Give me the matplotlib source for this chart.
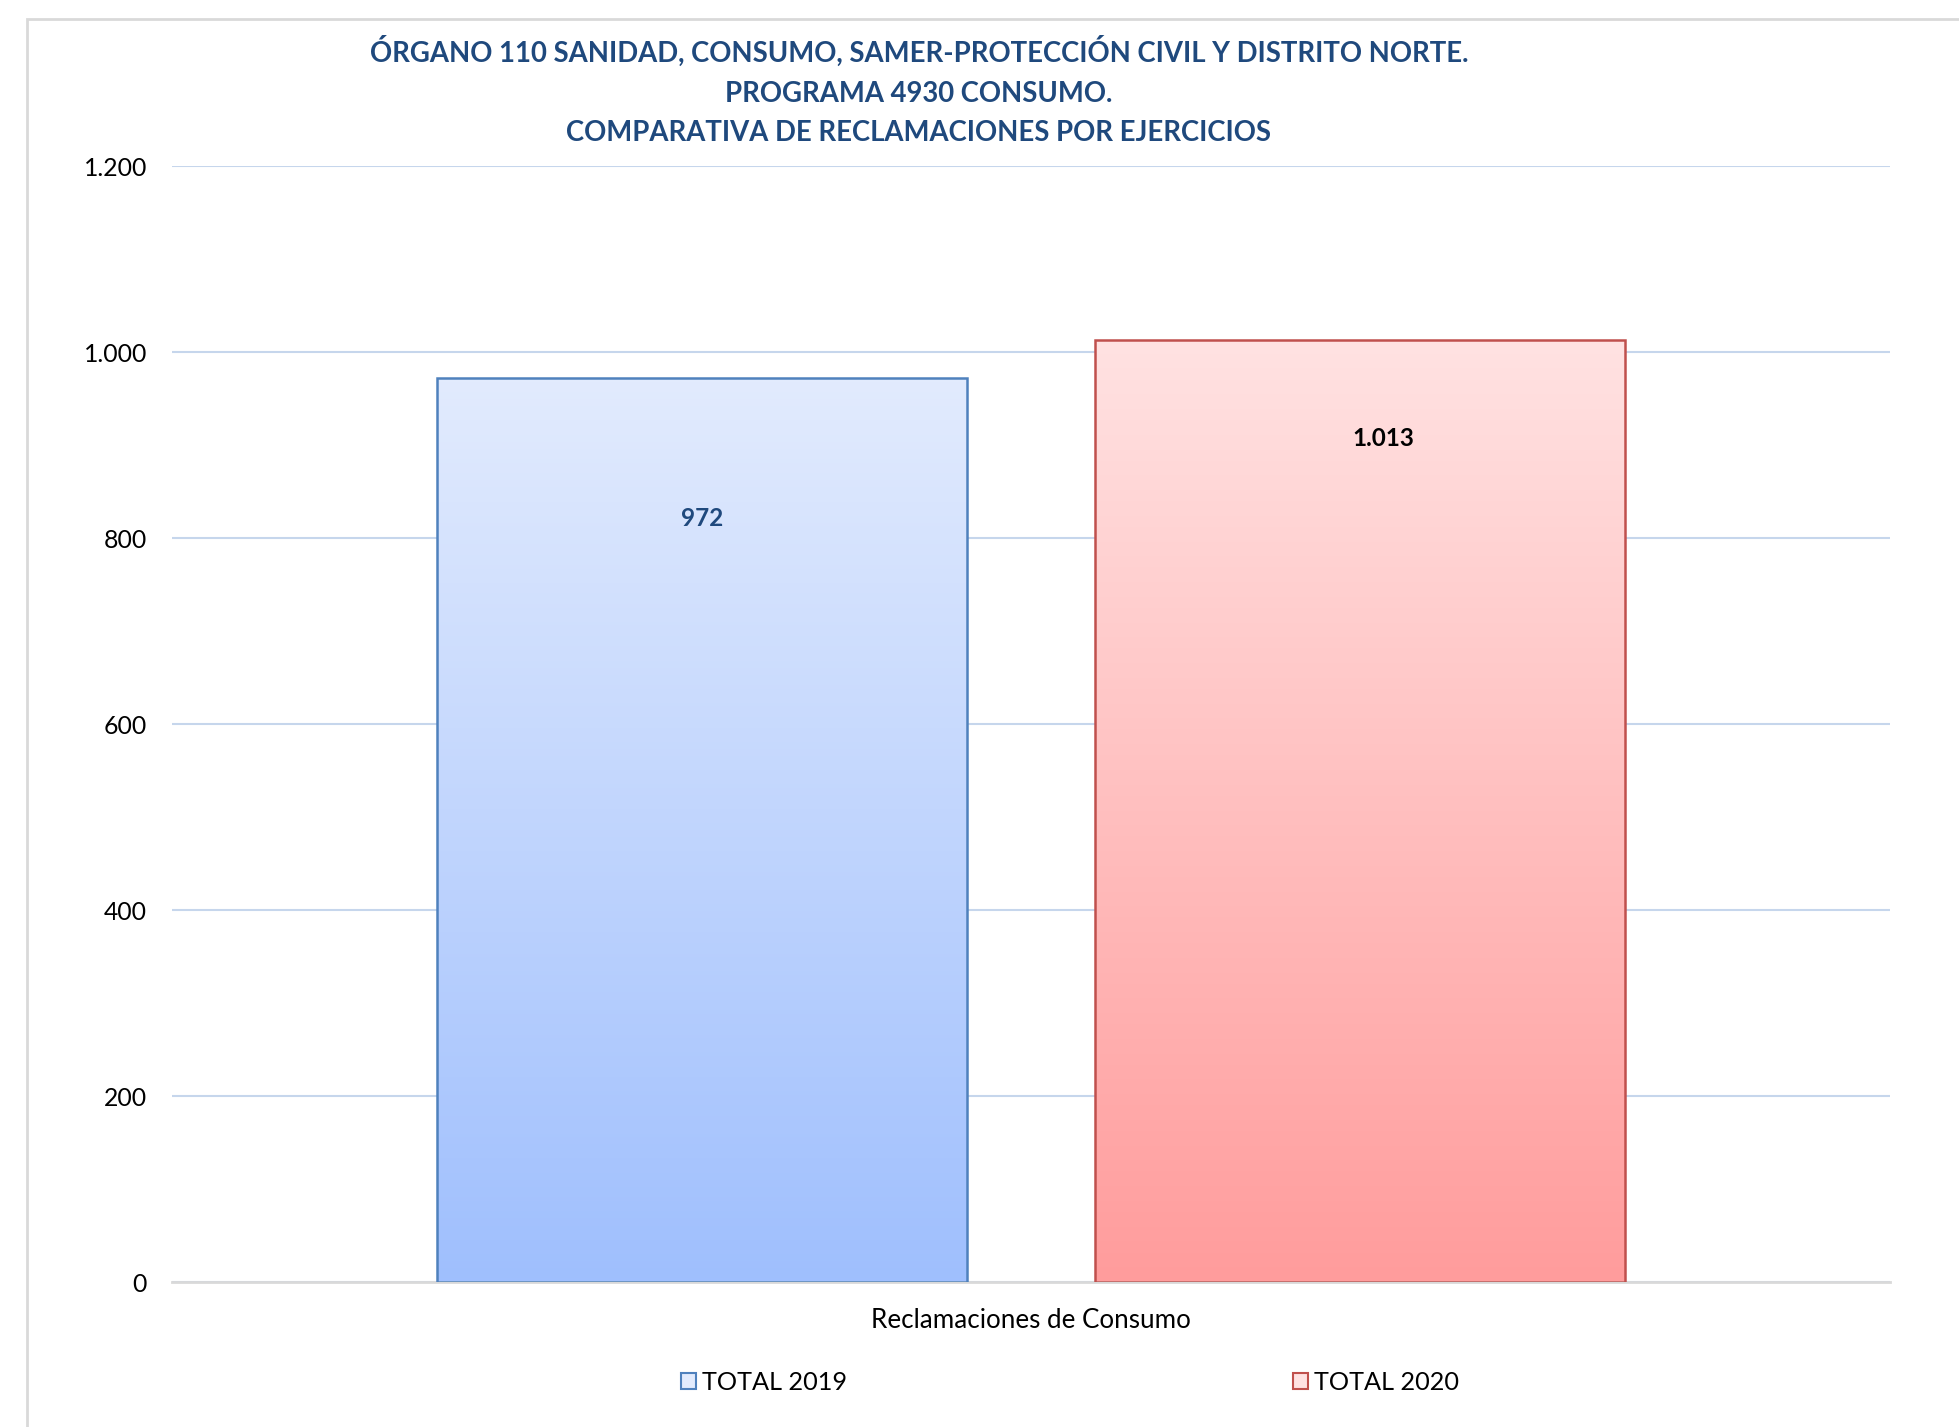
import matplotlib
matplotlib.use("Agg")
import matplotlib.pyplot as plt
import numpy as np
from matplotlib.patches import Rectangle
from matplotlib.ticker import FuncFormatter
from matplotlib.colors import LinearSegmentedColormap

plt.rcParams['font.family'] = ['Lato', 'DejaVu Sans']

categoria = "Reclamaciones de Consumo"
series = ["TOTAL 2019", "TOTAL 2020"]
valores = [972, 1013]
etiquetas = ["972", "1.013"]

titulo = ("ÓRGANO 110 SANIDAD, CONSUMO, SAMER-PROTECCIÓN CIVIL Y DISTRITO NORTE.\n"
          "PROGRAMA 4930 CONSUMO.\n"
          "COMPARATIVA DE RECLAMACIONES POR EJERCICIOS")

bordes = ["#4F81BD", "#C0504D"]
degradados = [("#9FBFFE", "#E2EBFD"), ("#FF9C9C", "#FFE2E2")]
color_etiqueta = ["#1F497D", "#000000"]
desplaz = [(0, -101), (17, -71)]

fig = plt.figure(figsize=(19.59, 14.27), dpi=100)
fig.patches.append(Rectangle((27 / 1959, -0.5), 2, 1.5 - 19 / 1427,
                             transform=fig.transFigure, fill=False,
                             edgecolor="#D9D9D9", linewidth=2))

ax = fig.add_axes([172 / 1959, 1 - 1282 / 1427, 1718 / 1959, 1116 / 1427])

ancho = 0.309
pos = [-0.1915, 0.1915]
barras = ax.bar(pos, valores, width=ancho, color="none",
                edgecolor=bordes, linewidth=1.8, zorder=3)

grad = np.linspace(0, 1, 256).reshape(-1, 1)
for b, (c0, c1) in zip(barras, degradados):
    cmap = LinearSegmentedColormap.from_list("g", [c0, c1])
    x0, w, h = b.get_x(), b.get_width(), b.get_height()
    im = ax.imshow(grad, cmap=cmap, aspect="auto", origin="lower",
                   extent=[x0, x0 + w, 0, h], zorder=2)
    im.set_clip_path(b)

for b, t, c, d in zip(barras, etiquetas, color_etiqueta, desplaz):
    ax.annotate(t, (b.get_x() + b.get_width() / 2, b.get_height()),
                xytext=d, textcoords="offset points", ha="center",
                va="center", fontsize=17.5, fontweight="bold", color=c, zorder=4)

ax.set_xlim(-0.5, 0.5)
ax.set_ylim(0, 1200)
ax.set_yticks(range(0, 1201, 200))
ax.yaxis.set_major_formatter(FuncFormatter(lambda v, p: f"{int(v):,}".replace(",", ".")))
ax.grid(axis="y", color="#C6D6EC", linewidth=1.5, zorder=0)
ax.set_axisbelow(True)
for s in ["top", "right", "left"]:
    ax.spines[s].set_visible(False)
ax.spines["bottom"].set_color("#D9D9D9")
ax.spines["bottom"].set_linewidth(2)
ax.tick_params(axis="y", length=0, labelsize=17.8, pad=18)
ax.set_xticks([0])
ax.set_xticklabels([categoria], fontsize=18.7)
ax.tick_params(axis="x", length=0, pad=19)

fig.text(919 / 1959, 1 - 91 / 1427, titulo, ha="center", va="center",
         fontsize=19.8, fontweight="bold", color="#1F497D", linespacing=1.65)

# leyenda
handles = [Rectangle((0, 0), 1, 1, facecolor=degradados[i][1], edgecolor=bordes[i], linewidth=1.5)
           for i in range(2)]
fig.legend(handles, series, loc="center", bbox_to_anchor=(1070 / 1959, 1 - 1382 / 1427),
           ncol=2, frameon=False, fontsize=18.2, handlelength=0.6, handleheight=0.6,
           handletextpad=0.25, columnspacing=17.6)

fig.savefig("out.png", dpi=100)
